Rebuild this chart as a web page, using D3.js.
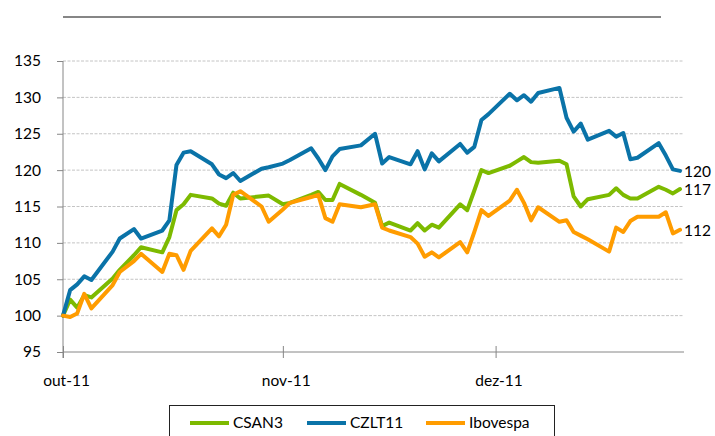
<!DOCTYPE html>
<html>
<head>
<meta charset="utf-8">
<script src="https://cdn.jsdelivr.net/npm/d3@7"></script>
<style>
  body { margin: 0; background: #fff; }
  svg { display: block; font-family: Lato, "Liberation Sans", sans-serif; }
</style>
</head>
<body>
<script>
// trading days, oct-dec 2011
let dates = [
  "2011-10-03","2011-10-04","2011-10-05","2011-10-06","2011-10-07",
  "2011-10-10","2011-10-11","2011-10-13","2011-10-14",
  "2011-10-17","2011-10-18","2011-10-19","2011-10-20","2011-10-21",
  "2011-10-24","2011-10-25","2011-10-26","2011-10-27","2011-10-28",
  "2011-10-31","2011-11-01","2011-11-03","2011-11-04",
  "2011-11-07","2011-11-08","2011-11-09","2011-11-10","2011-11-11",
  "2011-11-14","2011-11-16","2011-11-17","2011-11-18",
  "2011-11-21","2011-11-22","2011-11-23","2011-11-24","2011-11-25",
  "2011-11-28","2011-11-29","2011-11-30","2011-12-01","2011-12-02",
  "2011-12-05","2011-12-06","2011-12-07","2011-12-08","2011-12-09",
  "2011-12-12","2011-12-13","2011-12-14","2011-12-15","2011-12-16",
  "2011-12-19","2011-12-20","2011-12-21","2011-12-22","2011-12-23",
  "2011-12-26","2011-12-27","2011-12-28","2011-12-29"
];

let csan3 = [
  100, 102.2, 101.1, 102.8, 102.5,
  105.1, 106.3, 108.3, 109.4,
  108.7, 110.8, 114.5, 115.3, 116.6,
  116.1, 115.4, 115.1, 116.9, 116.1,
  116.4, 116.5, 115.3, 115.5,
  116.6, 117.0, 115.9, 115.9, 118.1,
  116.6, 115.5, 112.3, 112.8,
  111.7, 112.7, 111.7, 112.5, 112.1,
  115.3, 114.5, 117.2, 120.0, 119.6,
  120.6, 121.2, 121.8, 121.1, 121.0,
  121.3, 120.8, 116.4, 115.0, 116.0,
  116.6, 117.5, 116.6, 116.1, 116.1,
  117.7, 117.3, 116.8, 117.4
];

let czlt11 = [
  100, 103.5, 104.3, 105.4, 104.9,
  108.8, 110.6, 111.9, 110.6,
  111.7, 113.1, 120.7, 122.4, 122.6,
  120.8, 119.4, 118.9, 119.6, 118.5,
  120.2, 120.4, 120.9, 121.4,
  123.0, 121.6, 120.0, 121.9, 122.9,
  123.4, 125.0, 120.9, 121.8,
  120.8, 122.6, 120.1, 122.3, 121.2,
  123.6, 122.4, 123.2, 126.9, 127.7,
  130.5, 129.6, 130.3, 129.4, 130.6,
  131.3, 127.2, 125.3, 126.4, 124.2,
  125.4, 124.6, 125.1, 121.5, 121.7,
  123.7, 122.0, 120.1, 119.9
];

let ibovespa = [
  100, 99.8, 100.3, 103.0, 101.0,
  104.2, 106.0, 107.5, 108.5,
  106.0, 108.5, 108.3, 106.3, 108.9,
  112.0, 110.9, 112.5, 116.6, 117.1,
  115.0, 112.9, 114.6, 115.5,
  116.3, 116.6, 113.4, 112.9, 115.3,
  114.9, 115.3, 112.1, 111.7,
  110.8, 109.9, 108.1, 108.7, 108.0,
  110.1, 108.7, 111.5, 114.5, 113.7,
  115.8, 117.3, 115.5, 113.1, 114.9,
  112.9, 113.1, 111.5, 111.0, 110.5,
  108.8, 112.1, 111.5, 113.0, 113.6,
  113.6, 114.2, 111.3, 111.8
];

let seriesNames = ["CSAN3", "CZLT11", "Ibovespa"];
let seriesColors = ["#7dba00", "#0a73a8", "#ff9c00"];
let yTicks = [95, 100, 105, 110, 115, 120, 125, 130, 135];

let width = 715,
    height = 436;

let ptBR = d3.timeFormatLocale({
  dateTime: "%d/%m/%Y %H:%M:%S", date: "%d/%m/%Y", time: "%H:%M:%S",
  periods: ["AM", "PM"],
  days: ["domingo","segunda","terça","quarta","quinta","sexta","sábado"],
  shortDays: ["dom","seg","ter","qua","qui","sex","sáb"],
  months: ["janeiro","fevereiro","março","abril","maio","junho","julho","agosto","setembro","outubro","novembro","dezembro"],
  shortMonths: ["jan","fev","mar","abr","mai","jun","jul","ago","set","out","nov","dez"]
});

let parse = d3.timeParse("%Y-%m-%d");
let days = dates.map(parse);

let series = [csan3, czlt11, ibovespa].map((vals, i) => ({
  name: seriesNames[i],
  color: seriesColors[i],
  points: vals.map((v, j) => ({date: days[j], value: v}))
}));

let plotLeft = 63, plotRight = 684;

let x = d3.scaleTime()
          .domain([days[0], days[days.length - 1]])
          .range([63, 680]);

let y = d3.scaleLinear()
          .domain([95, 135])
          .range([352, 61]);

let svg = d3.select("body").append("svg")
            .attr("width", width)
            .attr("height", height);

// line above the plot
svg.append("line")
   .attr("x1", 63).attr("x2", 661)
   .attr("y1", 17).attr("y2", 17)
   .attr("stroke", "#868686")
   .attr("stroke-width", 2);

// gridlines
svg.append("g")
   .selectAll("line")
   .data(yTicks.slice(1))
   .enter()
   .append("line")
   .attr("x1", plotLeft).attr("x2", plotRight)
   .attr("y1", d => y(d)).attr("y2", d => y(d))
   .attr("stroke", "#c4c4c4")
   .attr("stroke-width", 1)
   .attr("stroke-dasharray", "3,1.5");

// y axis
let yAxis = svg.append("g")
   .attr("transform", `translate(${plotLeft},0)`)
   .call(d3.axisLeft(y).tickValues(yTicks).tickSize(6).tickPadding(16).tickFormat(d3.format("d")));
yAxis.select(".domain").remove();
yAxis.selectAll("line").attr("stroke", "#868686");
yAxis.selectAll("text").attr("font-size", "15.5px").attr("fill", "#000").attr("font-family", "Lato");
yAxis.append("line")
   .attr("x1", 0).attr("x2", 0)
   .attr("y1", y(135)).attr("y2", y(95) + 6)
   .attr("stroke", "#868686");

// x axis
let monthTicks = [0, 1, 2].map(i => d3.timeMonth.offset(days[0], i));
let xAxis = svg.append("g")
   .attr("transform", `translate(0,${y(95)})`)
   .call(d3.axisBottom(x).tickValues(monthTicks).tickSize(6).tickPadding(17).tickFormat(ptBR.format("%b-%y")));
xAxis.select(".domain").remove();
xAxis.selectAll(".tick line").attr("y1", -6).attr("stroke", "#868686");
xAxis.selectAll("text").attr("font-size", "15.5px").attr("fill", "#000").attr("font-family", "Lato").attr("dx", 3);
xAxis.append("line")
   .attr("x1", plotLeft).attr("x2", plotRight)
   .attr("y1", 0).attr("y2", 0)
   .attr("stroke", "#868686");

// series
let line = d3.line()
   .x(d => x(d.date))
   .y(d => y(d.value));

svg.append("g")
   .selectAll("path")
   .data(series)
   .enter()
   .append("path")
   .attr("d", d => line(d.points))
   .attr("fill", "none")
   .attr("stroke", d => d.color)
   .attr("stroke-width", 4)
   .attr("stroke-linejoin", "round")
   .attr("stroke-linecap", "round");

// end labels
svg.append("g")
   .selectAll("text")
   .data(series)
   .enter()
   .append("text")
   .attr("x", d => x(d.points[d.points.length - 1].date) + 4)
   .attr("y", d => y(d.points[d.points.length - 1].value) + 1)
   .attr("dy", "0.35em")
   .attr("font-size", "15.5px")
   .attr("fill", "#000")
   .text(d => d3.format(".0f")(d.points[d.points.length - 1].value));

// legend
let legend = svg.append("g");
legend.append("rect")
   .attr("x", 169.5).attr("y", 405.5)
   .attr("width", 385).attr("height", 40)
   .attr("fill", "#fff")
   .attr("stroke", "#222")
   .attr("stroke-width", 1);

let legendX = [190, 307, 426];
let item = legend.selectAll("g")
   .data(series)
   .enter()
   .append("g")
   .attr("transform", (d, i) => `translate(${legendX[i]},423)`);
item.append("line")
   .attr("x1", 0).attr("x2", 39)
   .attr("stroke", d => d.color)
   .attr("stroke-width", 4);
item.append("text")
   .attr("x", 43)
   .attr("dy", "0.35em")
   .attr("font-size", "15.5px")
   .attr("fill", "#000")
   .text(d => d.name);
</script>
</body>
</html>
